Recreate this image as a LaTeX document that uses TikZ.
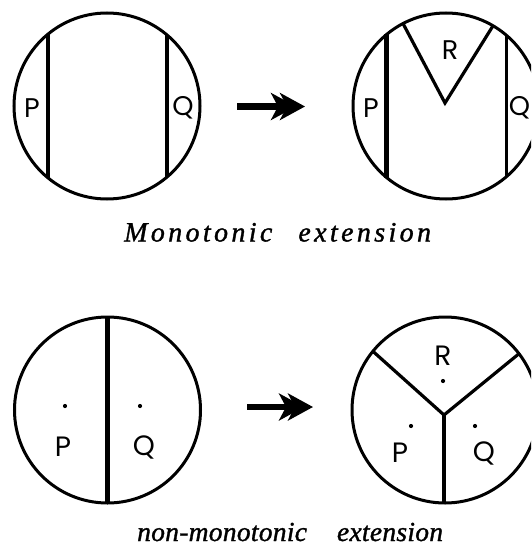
\documentclass[tikz,border=0pt]{standalone}
\usepackage{fontspec}
\setmainfont{Liberation Serif}
\newfontfamily\labfont{Poppins}
\newfontfamily\capfontA[LetterSpace=12,FakeBold=1.2]{Liberation Serif Italic}
\newfontfamily\capfontB[LetterSpace=1,FakeBold=1.2]{Liberation Serif Italic}
\usetikzlibrary{arrows.meta,calc}
\begin{document}
\begin{tikzpicture}[x=1pt,y=-1pt,
  ring/.style={line width=3pt},
  wall/.style={line width=3.2pt},
  thickwall/.style={line width=4.5pt},
  lab/.style={font=\labfont\fontsize{27}{27}\selectfont, inner sep=0pt},
  labB/.style={font=\labfont\fontsize{28}{28}\selectfont, inner sep=0pt},
  dotmark/.style={fill=black},
  bigarrow/.style={line width=6.5pt,
    -{Stealth[length=25pt,width=27pt,inset=7pt,sep=-16pt]Stealth[length=25pt,width=27pt,inset=7pt]}},
  capA/.style={font=\capfontA\fontsize{28}{28}\selectfont, inner sep=0pt, anchor=base west},
  capB/.style={font=\capfontB\fontsize{27.5}{27.5}\selectfont, inner sep=0pt, anchor=base west}]
\useasboundingbox (0,0) rectangle (531,556);
\clip (0,0) rectangle (531,556);
% centres
\coordinate (c1) at (107,106);
\coordinate (c2) at (446,106);
\coordinate (c3) at (107.5,410);
\coordinate (c4) at (445,410);
% top left
\draw[ring] (c1) circle[radius=93];
\draw[thickwall] (48,34) -- (48,178);
\draw[wall] (167,35) -- (167,177);
\node[lab] (p1) at (32,108) {P};
\node[lab] (q1) at (183,108) {Q};
% top arrow
\coordinate (a1s) at (237,106.5);
\coordinate (a1e) at (305,106.5);
\draw[bigarrow] (a1s) -- (a1e);
% top right
\draw[ring] (c2) circle[radius=93];
\draw[thickwall] (386.7,34.5) -- (386.7,177.5);
\draw[wall] (506.7,35.5) -- (506.7,176.5);
\draw[wall, line join=miter] (403,23.5) -- (445,103) -- (493,25.8);
\node[lab] (r2) at (450,50) {R};
\node[lab] (p2) at (371,108) {P};
\node[lab] (q2) at (519.5,108) {Q};
% caption top
\node[capA] (t1) at (124,241.5) {Monotonic\hspace{26pt}extension};
% bottom left
\draw[ring] (c3) circle[radius=93];
\draw[thickwall] (107.5,317) -- (107.5,503);
\fill[dotmark] (65,406) circle[radius=2.1];
\fill[dotmark] (140,406) circle[radius=2.1];
\node[labB] (p3) at (63,447) {P};
\node[labB] (q3) at (144,447) {Q};
% bottom arrow
\coordinate (a2s) at (247,407);
\coordinate (a2e) at (313,407);
\draw[bigarrow] (a2s) -- (a2e);
% bottom right
\draw[ring] (c4) circle[radius=93];
\coordinate (y0) at (444,415);
\draw[wall] (372.9,351.3) -- (y0) -- (519,353.7);
\draw[wall] (y0) -- (444,503);
\fill[dotmark] (443,381) circle[radius=2.1];
\fill[dotmark] (411,426) circle[radius=2.1];
\fill[dotmark] (475,426) circle[radius=2.1];
\node[labB] (r4) at (443,356) {R};
\node[labB] (p4) at (400,453) {P};
\node[labB] (q4) at (484,453) {Q};
% caption bottom
\node[capB] (t2) at (137,541) {non-monotonic\hspace{30pt}extension};
\end{tikzpicture}
\end{document}
